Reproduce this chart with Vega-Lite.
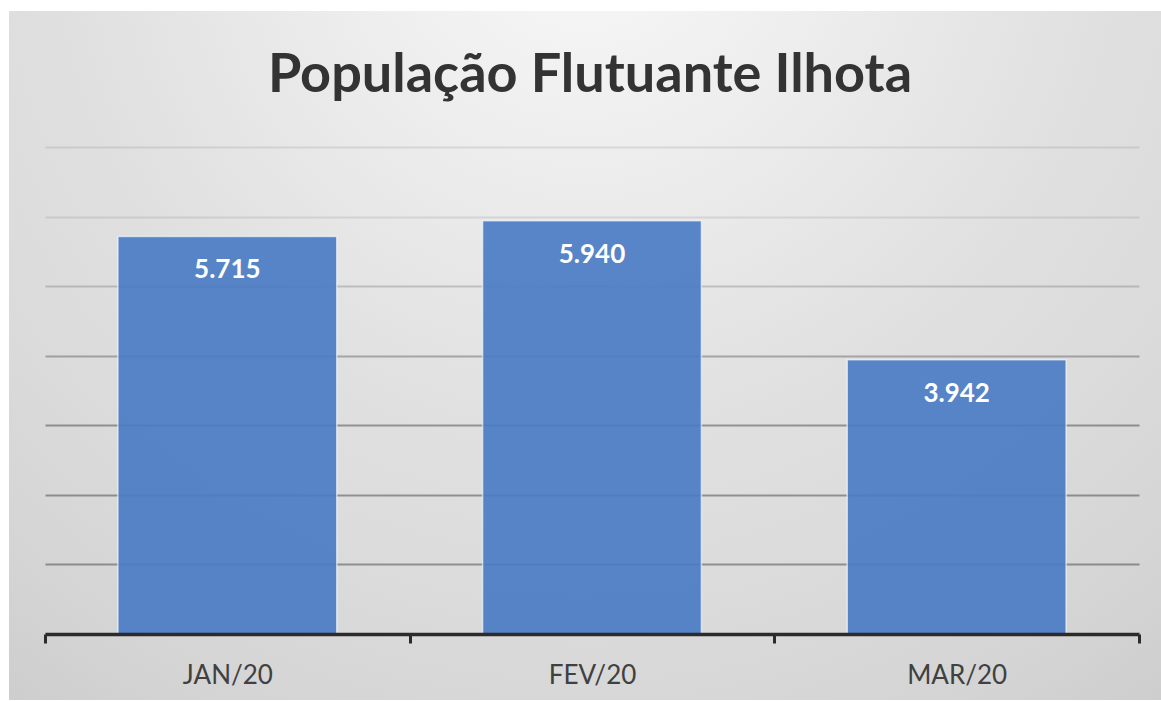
{
  "$schema": "https://vega.github.io/schema/vega-lite/v6.json",
  "width": 1152,
  "height": 689,
  "autosize": {"type": "none"},
  "padding": {"left": 9, "top": 11, "right": 0, "bottom": 1},
  "background": "#ffffff",
  "title": {
    "text": "População Flutuante Ilhota",
    "font": "Lato",
    "fontSize": 54,
    "fontWeight": "bold",
    "color": "#333333",
    "anchor": "middle",
    "frame": "group",
    "baseline": "alphabetic",
    "offset": -135,
    "dx": 5
  },
  "data": {
    "values": [
      {"mes": "JAN/20", "populacao": 5715},
      {"mes": "FEV/20", "populacao": 5940},
      {"mes": "MAR/20", "populacao": 3942}
    ]
  },
  "encoding": {
    "x": {
      "field": "mes",
      "type": "nominal",
      "sort": null,
      "scale": {"range": [36, 1130], "paddingInner": 0, "paddingOuter": 0},
      "axis": {
        "title": null,
        "labelAngle": 0,
        "labelFont": "Lato",
        "labelFontSize": 26,
        "labelColor": "#404040",
        "labelBaseline": "alphabetic",
        "labelPadding": 40,
        "tickBand": "extent",
        "tickSize": 9,
        "tickWidth": 3,
        "tickColor": "#2b2b2b",
        "domainColor": "#2b2b2b",
        "domainWidth": 3.5,
        "offset": -66,
        "grid": false,
        "zindex": 1
      }
    },
    "y": {
      "field": "populacao",
      "type": "quantitative",
      "scale": {"domain": [0, 7000], "range": [623, 136], "nice": false},
      "axis": {
        "title": null,
        "domain": false,
        "ticks": false,
        "labels": false,
        "values": [1000, 2000, 3000, 4000, 5000, 6000, 7000],
        "grid": true,
        "gridColor": "#000000",
        "gridWidth": 2,
        "gridOpacity": {
          "condition": [
            {"test": "datum.value >= 6000", "value": 0.09},
            {"test": "datum.value >= 5000", "value": 0.17},
            {"test": "datum.value >= 4000", "value": 0.27}
          ],
          "value": 0.35
        },
        "zindex": 0
      }
    }
  },
  "layer": [
    {
      "mark": {
        "type": "bar",
        "width": {"band": 0.6},
        "color": "#4a7cc4",
        "fillOpacity": 0.92,
        "stroke": "#ffffff",
        "strokeWidth": 1.5,
        "strokeOpacity": 0.6
      }
    },
    {
      "mark": {
        "type": "text",
        "font": "Lato",
        "fontSize": 26,
        "fontWeight": "bold",
        "color": "#ffffff",
        "baseline": "alphabetic",
        "dy": 42
      },
      "encoding": {
        "text": {"field": "populacao", "type": "quantitative", "format": ",d"}
      }
    }
  ],
  "config": {
    "locale": {
      "number": {"decimal": ",", "thousands": ".", "grouping": [3], "currency": ["R$", ""]}
    },
    "view": {
      "stroke": null,
      "fill": {
        "gradient": "radial",
        "x1": 0.5, "y1": 0.12, "r1": 0,
        "x2": 0.5, "y2": 0.12, "r2": 1,
        "stops": [
          {"offset": 0, "color": "#f8f8f8"},
          {"offset": 0.2, "color": "#eeeeee"},
          {"offset": 0.45, "color": "#e0e0e0"},
          {"offset": 0.6, "color": "#dbdbdb"},
          {"offset": 0.75, "color": "#d4d4d4"},
          {"offset": 0.85, "color": "#cdcdcd"},
          {"offset": 1, "color": "#c4c4c4"}
        ]
      }
    }
  }
}
